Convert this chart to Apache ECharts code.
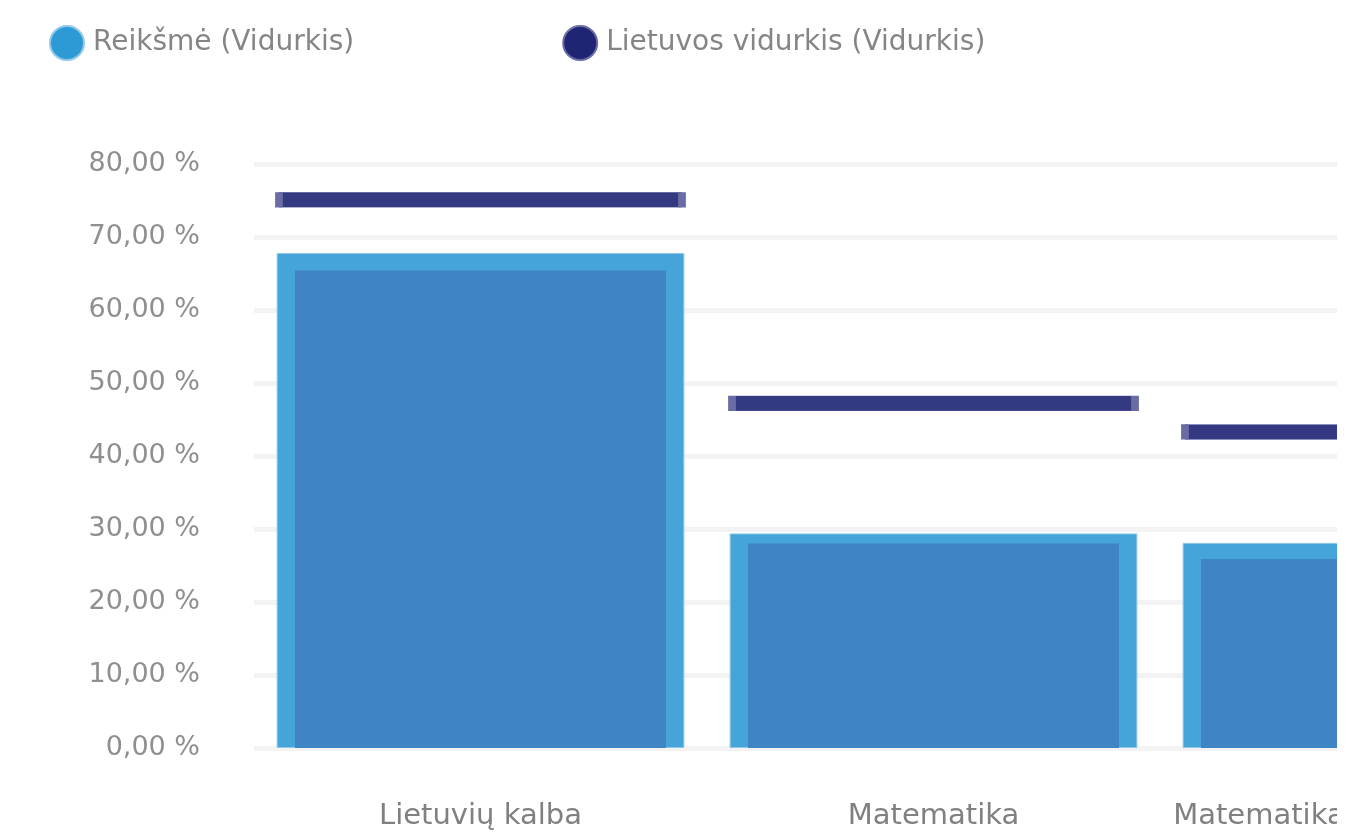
<!DOCTYPE html>
<html>
<head>
<meta charset="utf-8">
<script src="https://cdn.jsdelivr.net/npm/echarts@6/dist/echarts.min.js"></script>
<style>
    html, body { margin: 0; padding: 0; background: #fff; overflow: hidden; }
    #wrap { width: 1337px; height: 833px; overflow: hidden; }
    #chart { width: 1700px; height: 833px; }
</style>
</head>
<body>
<div id="wrap"><div id="chart"></div></div>
<script>
    // duomenys
    var categories = ['Lietuvių kalba', 'Matematika', 'Matematika (mokyklinis egz.)'];
    var reiksme = [67.8, 29.4, 28.1];
    var reiksmeInner = [65.4, 28.0, 25.9];
    var lietuvosVidurkis = [75.1, 47.2, 43.3];
    var yTicks = [0, 10, 20, 30, 40, 50, 60, 70, 80];

    var chart = echarts.init(document.getElementById('chart'));

    var option = {
        backgroundColor: '#fff',
        animation: false,
        legend: {
            left: 44,
            top: 20,
            icon: 'circle',
            itemWidth: 34,
            itemHeight: 34,
            itemGap: 208,
            textStyle: {
                color: '#858585',
                fontFamily: 'DejaVu Sans',
                fontSize: 28,
                padding: [0, 0, 0, 4]
            },
            data: [
                { name: 'Reikšmė (Vidurkis)', itemStyle: { color: '#2e9ad5' } },
                { name: 'Lietuvos vidurkis (Vidurkis)', itemStyle: { color: '#1f2473' } }
            ]
        },
        grid: {
            left: 254,
            top: 164,
            width: 1359,
            bottom: 85,
            containLabel: false
        },
        xAxis: [
            {
                type: 'category',
                data: categories,
                axisLine: { show: false },
                axisTick: { show: false },
                axisLabel: {
                    interval: 0,
                    margin: 54,
                    color: '#808080',
                    fontFamily: 'DejaVu Sans',
                    fontSize: 29
                }
            },
            {
                type: 'category',
                data: categories,
                show: false
            }
        ],
        yAxis: {
            type: 'value',
            min: yTicks[0],
            max: yTicks[yTicks.length - 1],
            interval: 10,
            axisLine: { show: false },
            axisTick: { show: false },
            splitLine: { lineStyle: { color: '#f3f3f3', width: 5 } },
            axisLabel: {
                margin: 54,
                color: '#8f8f8f',
                fontFamily: 'DejaVu Sans',
                fontSize: 27,
                formatter: function (v) {
                    return v.toFixed(2).replace('.', ',') + ' %';
                }
            }
        },
        series: [
            {
                name: 'Reikšmė (Vidurkis)',
                type: 'bar',
                xAxisIndex: 0,
                barCategoryGap: '10%',
                itemStyle: { color: '#45a5d8', borderColor: '#8fc8e9', borderWidth: 1 },
                data: reiksme
            },
            {
                name: 'inner',
                type: 'bar',
                xAxisIndex: 1,
                barWidth: 371,
                silent: true,
                itemStyle: { color: '#3f84c5' },
                data: reiksmeInner
            },
            {
                name: 'Lietuvos vidurkis (Vidurkis)',
                type: 'scatter',
                xAxisIndex: 0,
                symbol: 'rect',
                symbolSize: [403, 15],
                itemStyle: { color: '#333a81', borderColor: '#6a6ca6', borderWidth: 1.5, opacity: 1 },
                data: lietuvosVidurkis,
                z: 5
            }
        ]
    };

    chart.setOption(option);
</script>
</body>
</html>
